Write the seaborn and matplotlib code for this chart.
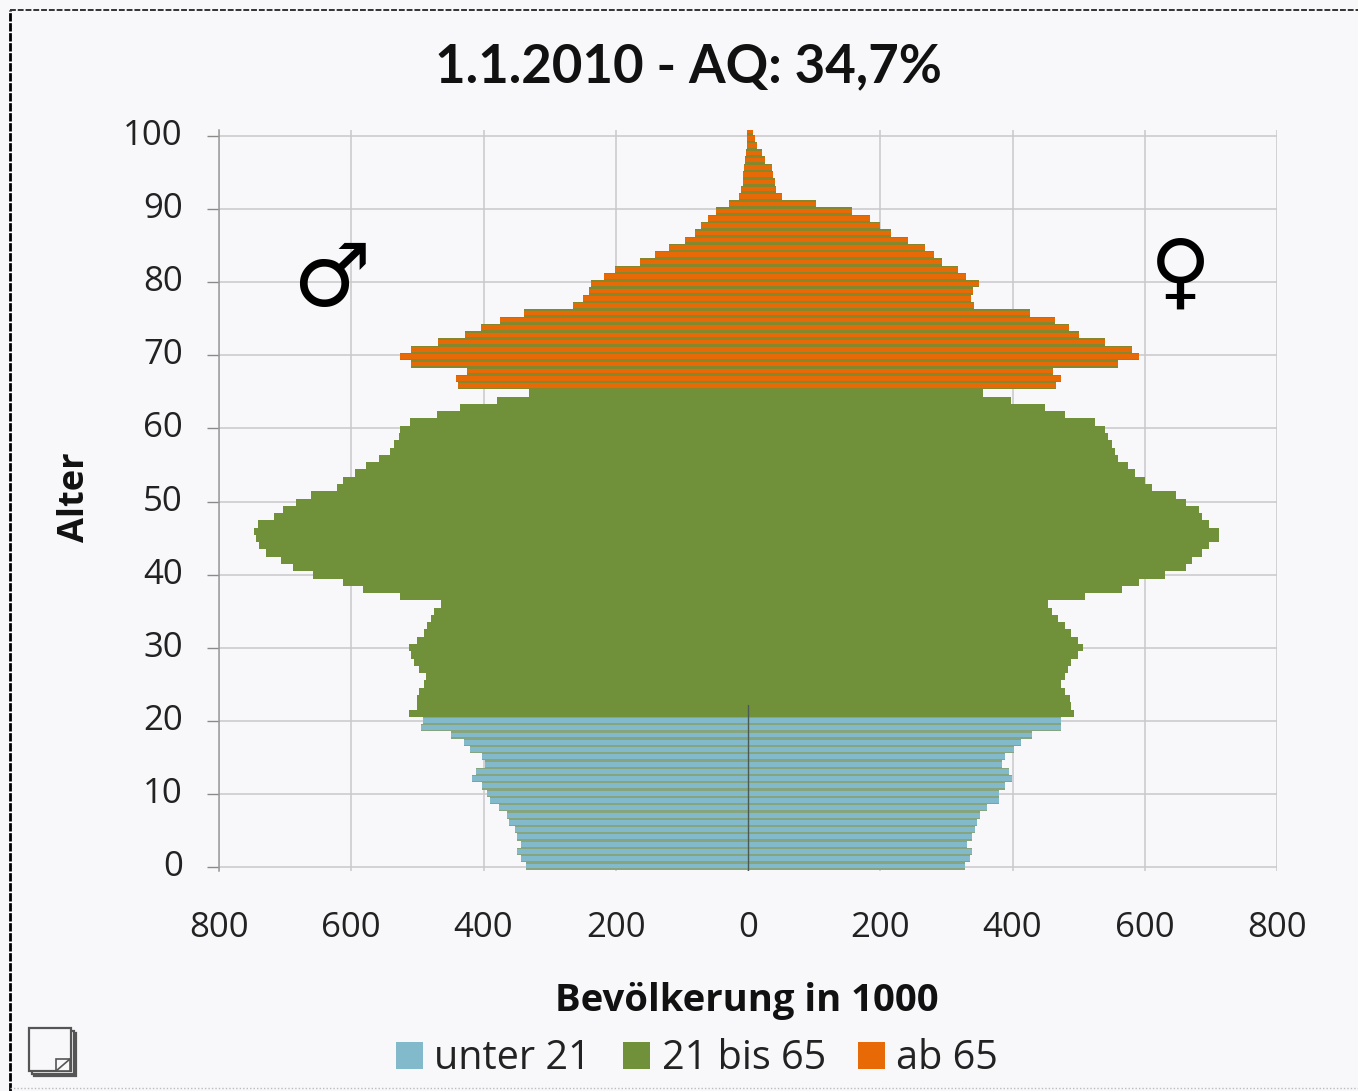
import matplotlib
matplotlib.use("Agg")
import matplotlib.pyplot as plt
from matplotlib.patches import Patch, Rectangle
from matplotlib.lines import Line2D
from matplotlib.transforms import ScaledTranslation
import pandas as pd
import seaborn as sns

W, H = 1358, 1091
BG = "#F8F7FA"
GRID = "#C9C9CB"
TEXT = "#222222"

title = "1.1.2010 - AQ: 34,7%"
xlabel = "Bevölkerung in 1000"
ylabel = "Alter"
legend_labels = ["unter 21", "21 bis 65", "ab 65"]
x_ticks = [-800, -600, -400, -200, 0, 200, 400, 600, 800]
x_tick_labels = ["800", "600", "400", "200", "0", "200", "400", "600", "800"]
y_tick_labels = [0, 10, 20, 30, 40, 50, 60, 70, 80, 90, 100]

male_u21 = [335, 344, 350, 344, 349, 353, 361, 365, 377, 390, 394, 403, 417, 412, 397, 403, 420, 430, 449, 494, 491]
female_u21 = [328, 335, 338, 331, 338, 344, 346, 351, 362, 379, 380, 388, 399, 394, 384, 388, 403, 413, 430, 474, 474]

male_mid = [513, 500, 500, 497, 490, 487, 497, 505, 510, 513, 500, 490, 485, 480, 475, 465, 526, 582, 612, 658,
            688, 706, 729, 739, 744, 747, 741, 717, 703, 683, 661, 622, 612, 595, 577, 558, 541, 536, 528, 526,
            511, 470, 436, 380, 331]
female_mid = [493, 489, 487, 479, 474, 479, 484, 489, 499, 507, 499, 489, 479, 469, 459, 454, 510, 565, 591, 631,
              662, 672, 687, 697, 712, 712, 697, 687, 682, 662, 647, 611, 601, 586, 575, 560, 555, 550, 545, 540,
              525, 479, 449, 398, 355]

male_old = [438, 441, 425, 510, 527, 510, 469, 428, 404, 375, 339, 264, 249, 240, 238, 218, 201, 164, 141, 119,
            95, 80, 71, 61, 48, 29, 13, 10, 8, 8, 6, 5, 3, 1, 1, 1]
female_old = [466, 473, 461, 559, 591, 580, 540, 501, 485, 464, 427, 342, 337, 340, 350, 330, 318, 294, 282, 268,
              242, 217, 200, 185, 158, 103, 52, 43, 41, 38, 36, 26, 21, 14, 10, 7]

def frame(start, values, sign):
    return pd.DataFrame({"age": range(start, start + len(values)), "value": [sign * v for v in values]})

sns.set_theme(style="white")
plt.rcParams["font.family"] = ["Open Sans", "DejaVu Sans"]
fig = plt.figure(figsize=(W / 100, H / 100), dpi=100, facecolor=BG)

left, right, top, bottom = 219, 1277, 130, 870.5
ax = fig.add_axes([left / W, 1 - bottom / H, (right - left) / W, (bottom - top) / H], facecolor=BG)

groups = [
    (male_u21, female_u21, 0, "#82BACB", "#86A57E", 0.68),
    (male_mid, female_mid, 21, "#71903A", "#71903A", 1.0),
    (male_old, female_old, 66, "#E86A06", "#85872C", 0.62),
]
for m, f, start, col, under, width in groups:
    for vals, sign in ((m, -1), (f, 1)):
        data = frame(start, vals, sign)
        sns.barplot(data=data, x="value", y="age", orient="y", native_scale=True, color=under,
                    linewidth=0, width=1.0, saturation=1, errorbar=None, ax=ax, zorder=3)
        if width < 1:
            sns.barplot(data=data, x="value", y="age", orient="y", native_scale=True, color=col,
                        linewidth=0, width=width, saturation=1, errorbar=None, ax=ax, zorder=4)

PX_PER_BAR = 7.277
ax.set_xlim(-800, 800)
ax.set_ylim((866 - bottom) / PX_PER_BAR, (866 - top) / PX_PER_BAR)
y_pos = [((866 - (867 - 7.31 * t)) / PX_PER_BAR) for t in y_tick_labels]
ax.set_yticks(y_pos, [str(t) for t in y_tick_labels])
ax.set_xticks(x_ticks, x_tick_labels)
ax.set_xlabel("")
ax.set_ylabel("")
ax.grid(True, color=GRID, lw=1.1, zorder=0)
ax.set_axisbelow(True)
ax.tick_params(axis="y", length=9, width=1.0, color="#8A8A8A", labelsize=25, labelcolor=TEXT, pad=17, left=True)
ax.tick_params(axis="x", length=0, labelsize=25, labelcolor=TEXT, pad=29.5, bottom=False)
shift = ScaledTranslation(0, 4 / 100, fig.dpi_scale_trans)
for lab in ax.get_yticklabels():
    lab.set_transform(lab.get_transform() + shift)
for s in ("top", "right", "bottom"):
    ax.spines[s].set_visible(False)
ax.spines["left"].set_color("#9A9A9A")
ax.spines["left"].set_linewidth(1.1)
ax.axvline(0, ymin=0, ymax=(bottom - 705) / (bottom - top), color="#4A5A55", lw=1.0, zorder=5)

def fx(px): return px / W
def fy(py): return 1 - py / H

fig.text(fx(688), fy(67), title, ha="center", va="center", fontsize=38, fontweight="bold", family="Lato", color="#111111")
fig.text(fx(747), fy(1001), xlabel, ha="center", va="center", fontsize=27.5, fontweight="bold", family="Open Sans", color="#111111")
fig.text(fx(75), fy(497), ylabel, ha="center", va="center", rotation=90, fontsize=26, fontweight="bold", family="Open Sans", color="#111111")
fig.text(fx(331), fy(282), "\u2642", ha="center", va="center", fontsize=63, family="DejaVu Sans", color="black")
fig.text(fx(1180), fy(275), "\u2640", ha="center", va="center", fontsize=60, family="DejaVu Sans", color="black")

handles = [Patch(facecolor=c, edgecolor="none") for c in ("#82BACB", "#71903A", "#E86A06")]
fig.legend(handles, legend_labels, loc="center", bbox_to_anchor=(fx(697), fy(1059)), ncol=3, frameon=False,
           fontsize=28.5, handlelength=0.68, handleheight=0.68, handletextpad=0.3, columnspacing=0.8, labelcolor=TEXT)

fig.add_artist(Line2D([fx(10), fx(10)], [0, fy(10)], color="black", lw=2, ls=(0, (3, 0.6))))
fig.add_artist(Line2D([fx(10), 1], [fy(10), fy(10)], color="#333333", lw=1.4, ls=(0, (3, 1))))
fig.add_artist(Line2D([fx(10), 1], [fy(1088), fy(1088)], color="#BBBBBB", lw=1, ls=(0, (1, 1.5))))

for dx in (5, 3, 0):
    fig.add_artist(Rectangle((fx(29 + dx), fy(1071 + dx)), 42 / W, 43 / H, fc=BG, ec="#555555", lw=1.6, transform=fig.transFigure))
fig.add_artist(Rectangle((fx(56), fy(1071)), 14 / W, 12 / H, fc=BG, ec="#555555", lw=1.2, transform=fig.transFigure))
fig.add_artist(Line2D([fx(56), fx(70)], [fy(1071), fy(1059)], color="#555555", lw=1.2))

fig.savefig("out.png", dpi=100, facecolor=BG)
